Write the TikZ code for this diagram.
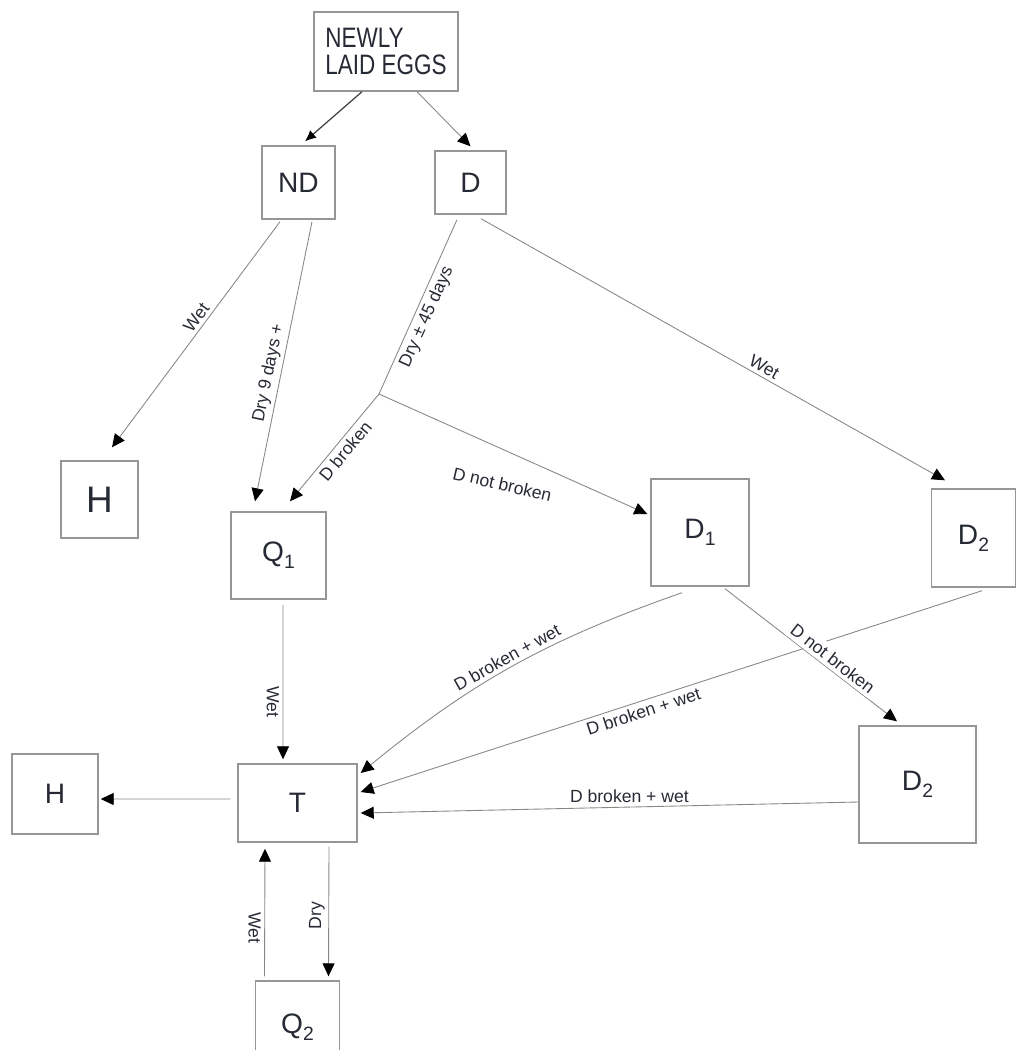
\documentclass[tikz,border=0pt]{standalone}
\usepackage{fontspec}
\setmainfont{Liberation Sans}
\newfontfamily\narrowfont[FakeStretch=0.8]{Liberation Sans}
\usetikzlibrary{positioning,arrows.meta}
\definecolor{boxgray}{RGB}{150,150,150}
\definecolor{linegray}{RGB}{135,135,135}
\definecolor{inkdark}{RGB}{38,42,52}
\newcommand\lsub[1]{\raisebox{-4pt}{\fontsize{11}{11}\selectfont #1}}

\begin{document}
\begin{tikzpicture}[node distance=4cm, on grid,
stage/.style={draw=boxgray, line width=0.8pt, inner sep=0pt, text=inkdark,
  font=\fontsize{16}{19}\selectfont},
arr/.style={line width=0.5pt, every edge/.append style={draw=linegray},
  -{Triangle[length=0.26cm, width=0.24cm, color=black, fill=black]}},
toparr/.style={line width=0.7pt, every edge/.append style={draw=black!75},
  -{Latex[length=0.22cm, width=0.2cm, color=black, fill=black]}},
lbl/.style={font=\fontsize{10}{12}\selectfont, text=inkdark, inner sep=2pt}]
\path[use as bounding box, clip] (0,0) rectangle (20.34,-21);

\node [stage, minimum width=2.88cm, minimum height=1.58cm, align=left,
  font=\narrowfont\fontsize{16}{15.5}\selectfont] (nle) at (7.72,-1.03) {NEWLY\\LAID EGGS};
\node [stage, minimum width=1.46cm, minimum height=1.46cm] (nd) [below left=2.62cm and 1.75cm of nle] {ND};
\node [stage, minimum width=1.42cm, minimum height=1.26cm] (d) [right=3.44cm of nd] {D};
\node [stage, minimum width=1.9cm, minimum height=1.74cm] (q1) [below left=7.46cm and 0.4cm of nd] {Q\lsub{1}};
\node [stage, minimum width=1.54cm, minimum height=1.54cm, font=\fontsize{21}{24}\selectfont] (h1) [above left=1.12cm and 3.58cm of q1] {H};
\node [stage, minimum width=1.96cm, minimum height=2.14cm] (d1) [above right=0.46cm and 8.43cm of q1] {D\lsub{1}};
\node [stage, minimum width=1.68cm, minimum height=1.96cm] (d2a) [below right=0.11cm and 5.47cm of d1] {D\lsub{2}};
\node [stage, minimum width=2.38cm, minimum height=1.56cm] (t) [below right=4.95cm and 0.38cm of q1] {T};
\node [stage, minimum width=1.72cm, minimum height=1.6cm] (h2) [above left=0.18cm and 4.85cm of t] {H};
\node [stage, minimum width=2.34cm, minimum height=2.34cm] (d2b) [above right=0.37cm and 12.4cm of t] {D\lsub{2}};
\node [stage, minimum width=1.68cm, minimum height=1.84cm] (q2) [below=4.48cm of t] {Q\lsub{2}};
\coordinate [below left=4.23cm and 1.83cm of d] (split);

% from the new eggs
\path [toparr]
([xshift=-0.48cm]nle.south) edge ([xshift=0.13cm,yshift=0.08cm]nd.north);
\path [arr]
([xshift=0.62cm]nle.south) edge ([yshift=0.08cm]d.north)
% ND and D
([xshift=-0.37cm,yshift=-0.04cm]nd.south) edge node [lbl, sloped, above, pos=0.45] {Wet} ([xshift=0.25cm,yshift=0.26cm]h1.north)
([xshift=0.27cm,yshift=-0.04cm]nd.south) edge node [lbl, sloped, above, pos=0.55] {Dry 9 days +} ([xshift=-0.47cm,yshift=0.2cm]q1.north)
(split) edge node [lbl, sloped, below, pos=0.47] {D broken} ([xshift=0.23cm,yshift=0.2cm]q1.north)
(split) edge node [lbl, pos=0.46, yshift=-0.7cm, rotate=-13] {D not broken} ([xshift=-0.06cm,yshift=0.37cm]d1.west)
([xshift=0.21cm,yshift=-0.08cm]d.south) edge node [lbl, sloped, above, pos=0.6] {Wet} ([xshift=-0.57cm,yshift=0.16cm]d2a.north)
% into T
([xshift=0.09cm,yshift=-0.1cm]q1.south) edge node [lbl, sloped, below, pos=0.63] {Wet} ([xshift=-0.29cm,yshift=0.08cm]t.north)
([xshift=-0.36cm,yshift=-0.12cm]d1.south) edge [bend right=10] node [lbl, sloped, above, pos=0.5] {D broken + wet} ([xshift=0.06cm,yshift=0.6cm]t.east)
([xshift=0.17cm,yshift=-0.06cm]d2a.south) edge node [lbl, sloped, below, pos=0.55] {D broken + wet} ([xshift=0.06cm,yshift=0.22cm]t.east)
([yshift=-0.35cm]d2b.west) edge node [lbl, above, pos=0.46] {D broken + wet} ([xshift=0.06cm,yshift=-0.2cm]t.east)
([xshift=0.5cm,yshift=-0.04cm]d1.south) edge node [lbl, sloped, above, pos=0.59, fill=white] {D not broken} ([xshift=-0.41cm,yshift=0.08cm]d2b.north)
% out of T
([xshift=-0.14cm,yshift=0.08cm]t.west) edge ([xshift=0.04cm,yshift=-0.1cm]h2.east)
([xshift=0.63cm,yshift=-0.08cm]t.south) edge node [lbl, sloped, above, pos=0.53] {Dry} ([xshift=0.62cm,yshift=0.08cm]q2.north)
([xshift=-0.66cm,yshift=0.08cm]q2.north) edge node [lbl, pos=0.38, rotate=-90, anchor=north] {Wet} ([xshift=-0.65cm,yshift=-0.12cm]t.south);
\draw [draw=linegray, line width=0.5pt] ([xshift=-0.27cm,yshift=-0.1cm]d.south) -- node [lbl, sloped, below, pos=0.53] {Dry ± 45 days} (split);
\end{tikzpicture}
\end{document}
